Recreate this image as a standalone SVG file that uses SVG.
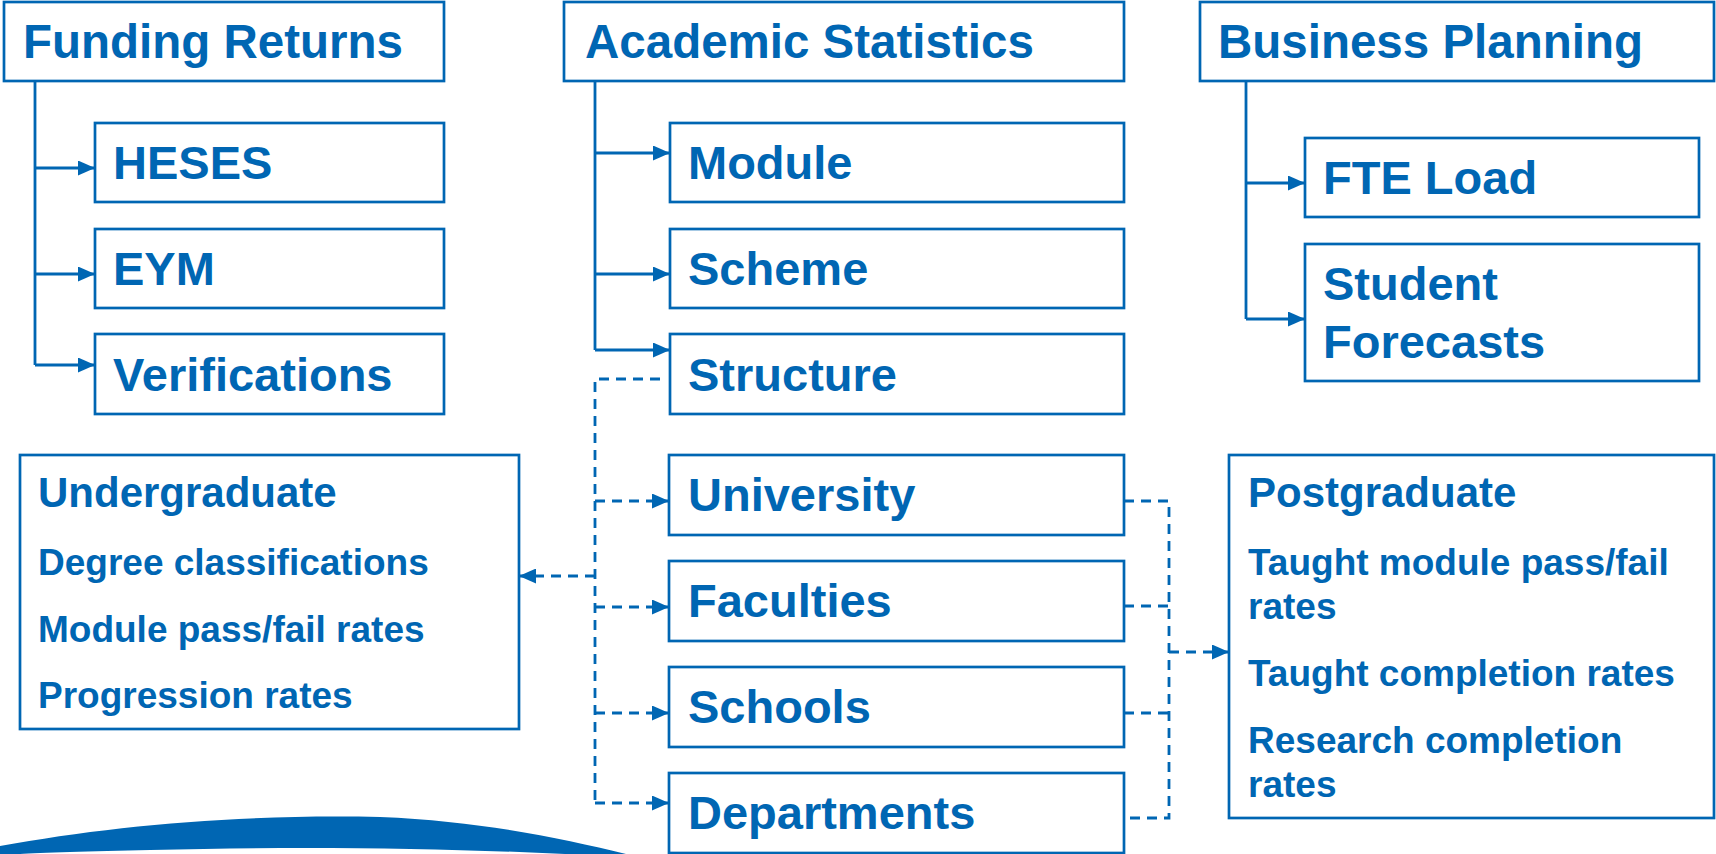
<svg xmlns="http://www.w3.org/2000/svg" width="1716" height="854" viewBox="0 0 1716 854">
<style>
.box{fill:#fff;stroke:#0066b3;stroke-width:2.7}
.t{font-family:"Liberation Sans",Arial,sans-serif;font-weight:bold;fill:#0066b3}
.h{font-size:47.5px}
.n{font-size:47px}
.s{font-size:42px}
.i{font-size:37px}
.c{fill:none;stroke:#0066b3;stroke-width:2.8}
.d{stroke-dasharray:10 7}
</style>
<defs>
<marker id="ah" markerUnits="userSpaceOnUse" markerWidth="17" markerHeight="15" refX="17" refY="7.5" orient="auto">
<path d="M0,0 L17,7.5 L0,15 Z" fill="#0066b3"/>
</marker>
</defs>
<rect width="1716" height="854" fill="#fff"/>
<path id="swoosh" d="M0,846 C110,826 240,814 380,817 C480,821 560,838 626,854 L565,854 C440,848 300,846 150,850 C90,851 40,853 20,854 L0,854 Z" fill="#0066b3"/>
<g id="connectors">
<path class="c" d="M35,77 V365"/>
<path class="c" d="M35,168 H95" marker-end="url(#ah)"/>
<path class="c" d="M35,274 H95" marker-end="url(#ah)"/>
<path class="c" d="M35,365 H95" marker-end="url(#ah)"/>
<path class="c" d="M595,77 V350"/>
<path class="c" d="M595,153 H670" marker-end="url(#ah)"/>
<path class="c" d="M595,274 H670" marker-end="url(#ah)"/>
<path class="c" d="M595,350 H670" marker-end="url(#ah)"/>
<path class="c" d="M1246,77 V319"/>
<path class="c" d="M1246,183 H1305" marker-end="url(#ah)"/>
<path class="c" d="M1246,319 H1305" marker-end="url(#ah)"/>
<path class="c d" d="M660,379 H595 V803"/>
<path class="c d" d="M595,501 H669" marker-end="url(#ah)"/>
<path class="c d" d="M595,607 H669" marker-end="url(#ah)"/>
<path class="c d" d="M595,713 H669" marker-end="url(#ah)"/>
<path class="c d" d="M595,803 H669" marker-end="url(#ah)"/>
<path class="c d" d="M595,576 H519" marker-end="url(#ah)"/>
<path class="c d" d="M1124,501 H1169 V818 H1124"/>
<path class="c d" d="M1124,606 H1169"/>
<path class="c d" d="M1124,713 H1169"/>
<path class="c d" d="M1169,652 H1229" marker-end="url(#ah)"/>
</g>
<g id="funding-returns"><rect class="box" x="4" y="2" width="440" height="79"/><text class="t h" x="23" y="58">Funding Returns</text></g>
<g id="heses"><rect class="box" x="95" y="123" width="349" height="79"/><text class="t n" x="113" y="179">HESES</text></g>
<g id="eym"><rect class="box" x="95" y="229" width="349" height="79"/><text class="t n" x="113" y="285">EYM</text></g>
<g id="verifications"><rect class="box" x="95" y="334" width="349" height="80"/><text class="t n" x="113" y="391">Verifications</text></g>
<g id="academic-statistics"><rect class="box" x="564" y="2" width="560" height="79"/><text class="t h" x="585" y="58">Academic Statistics</text></g>
<g id="module"><rect class="box" x="670" y="123" width="454" height="79"/><text class="t n" x="688" y="179">Module</text></g>
<g id="scheme"><rect class="box" x="670" y="229" width="454" height="79"/><text class="t n" x="688" y="285">Scheme</text></g>
<g id="structure"><rect class="box" x="670" y="334" width="454" height="80"/><text class="t n" x="688" y="391">Structure</text></g>
<g id="business-planning"><rect class="box" x="1200" y="2" width="514" height="79"/><text class="t h" x="1218" y="58">Business Planning</text></g>
<g id="fte-load"><rect class="box" x="1305" y="138" width="394" height="79"/><text class="t n" x="1323" y="194">FTE Load</text></g>
<g id="student-forecasts"><rect class="box" x="1305" y="244" width="394" height="137"/><text class="t n" x="1323" y="300">Student</text><text class="t n" x="1323" y="358">Forecasts</text></g>
<g id="undergraduate"><rect class="box" x="20" y="455" width="499" height="274"/>
<text class="t s" x="38" y="507">Undergraduate</text>
<text class="t i" x="38" y="575">Degree classifications</text>
<text class="t i" x="38" y="642">Module pass/fail rates</text>
<text class="t i" x="38" y="708">Progression rates</text></g>
<g id="university"><rect class="box" x="669" y="455" width="455" height="80"/><text class="t n" x="688" y="511">University</text></g>
<g id="faculties"><rect class="box" x="669" y="561" width="455" height="80"/><text class="t n" x="688" y="617">Faculties</text></g>
<g id="schools"><rect class="box" x="669" y="667" width="455" height="80"/><text class="t n" x="688" y="723">Schools</text></g>
<g id="departments"><rect class="box" x="669" y="773" width="455" height="80"/><text class="t n" x="688" y="829">Departments</text></g>
<g id="postgraduate"><rect class="box" x="1229" y="455" width="485" height="363"/>
<text class="t s" x="1248" y="507">Postgraduate</text>
<text class="t i" x="1248" y="575">Taught module pass/fail</text>
<text class="t i" x="1248" y="619">rates</text>
<text class="t i" x="1248" y="686">Taught completion rates</text>
<text class="t i" x="1248" y="753">Research completion</text>
<text class="t i" x="1248" y="797">rates</text></g>
</svg>
